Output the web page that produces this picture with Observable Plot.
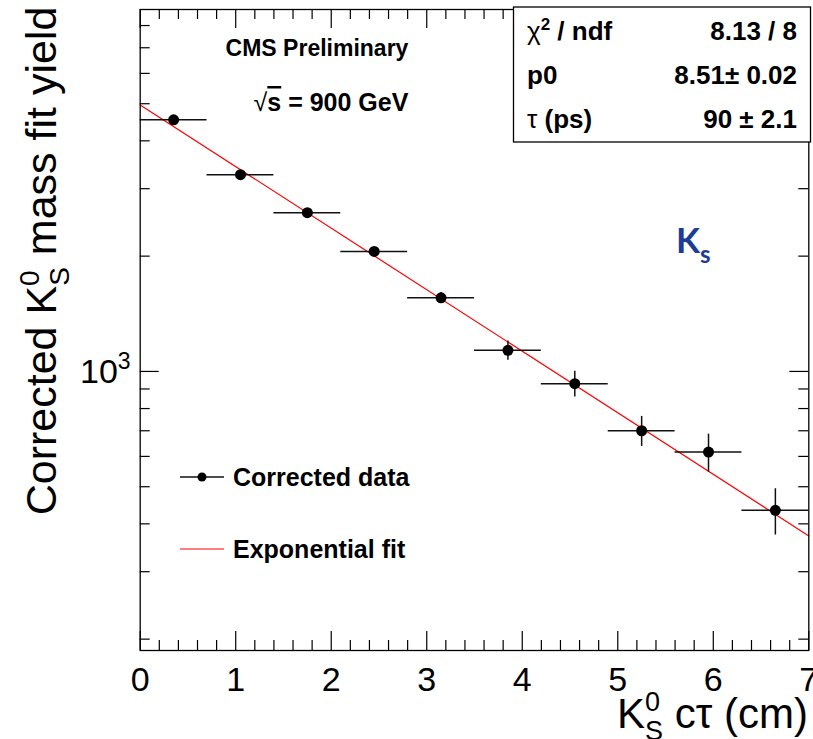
<!DOCTYPE html>
<html>
<head>
<meta charset="utf-8">
<script src="https://cdn.jsdelivr.net/npm/d3@7"></script>
<script src="https://cdn.jsdelivr.net/npm/@observablehq/plot@0.6"></script>
<style>
  html, body { margin: 0; padding: 0; background: #fff; }
  svg { display: block; }
</style>
</head>
<body>
<div id="chart"></div>
<script>
// ---- data ----
const binCenters   = [0.35, 1.05, 1.75, 2.45, 3.15, 3.85, 4.55, 5.25, 5.95, 6.65];
const binHalfWidth = [0.35, 0.35, 0.35, 0.35, 0.35, 0.35, 0.35, 0.35, 0.35, 0.35];
const yields       = [4540, 3263, 2597, 2058, 1557, 1135, 929, 700, 616, 434];
const yieldErrors  = [35, 40, 45, 50, 50, 65, 72, 63, 70, 60];
const fitX = [0, 7];
const fitY = [4960, 372];
const xTickLabels = [0, 1, 2, 3, 4, 5, 6, 7];
const yMajorTicks = [1000];
const yMinorTicks = [200, 300, 400, 500, 600, 700, 800, 900, 2000, 3000, 4000, 5000, 6000, 7000, 8000];
const xMinorTicks = d3.range(0, 7.0001, 0.2).filter(v => Math.abs(v - Math.round(v)) > 1e-6);
const statNames  = ["ndf", "p0", "τ (ps)"];
const statValues = ["8.13 / 8", "8.51± 0.02", "90 ± 2.1"];

const points = binCenters.map((x, i) => ({x, hw: binHalfWidth[i], y: yields[i], e: yieldErrors[i]}));
const fit = fitX.map((x, i) => ({x, y: fitY[i]}));

// ---- layout ----
const W = 813, H = 739;
const mL = 139.7, mR = 4.7, mT = 9, mB = 89;
const fw = W - mL - mR, fh = H - mT - mB;
const FONT = "'Liberation Sans', Arial, Helvetica, sans-serif";

const svgEl = Plot.plot({
  width: W, height: H,
  marginLeft: mL, marginRight: mR, marginTop: mT, marginBottom: mB,
  style: {fontFamily: FONT, background: "#fff", color: "#000", overflow: "visible"},
  x: {domain: [0, 7], axis: null},
  y: {type: "log", domain: [186.8, 8810], axis: null},
  marks: [
    // ticks (inside the frame, ROOT style)
    Plot.tickX(xMinorTicks, {x: d => d, insetTop: fh - 10, stroke: "#000", strokeWidth: 1.2}),
    Plot.tickX(xTickLabels, {x: d => d, insetTop: fh - 19, stroke: "#000", strokeWidth: 1.2}),
    Plot.tickX(xMinorTicks, {x: d => d, insetBottom: fh - 10, stroke: "#000", strokeWidth: 1.2}),
    Plot.tickX(xTickLabels, {x: d => d, insetBottom: fh - 19, stroke: "#000", strokeWidth: 1.2}),
    Plot.tickY(yMinorTicks, {y: d => d, insetRight: fw - 10, stroke: "#000", strokeWidth: 1.2}),
    Plot.tickY(yMajorTicks, {y: d => d, insetRight: fw - 19, stroke: "#000", strokeWidth: 1.2}),
    Plot.tickY(yMinorTicks, {y: d => d, insetLeft: fw - 10, stroke: "#000", strokeWidth: 1.2}),
    Plot.tickY(yMajorTicks, {y: d => d, insetLeft: fw - 19, stroke: "#000", strokeWidth: 1.2}),
    Plot.axisX(xTickLabels, {tickSize: 0, tickPadding: 16, fontSize: 34, label: null, tickFormat: d => String(d)}),
    // fit
    Plot.line(fit, {x: "x", y: "y", stroke: "#ff0000", strokeWidth: 1.2}),
    // error bars
    Plot.ruleY(points, {y: "y", x1: d => d.x - d.hw, x2: d => d.x + d.hw, stroke: "#111", strokeWidth: 1.5}),
    Plot.ruleX(points, {x: "x", y1: d => d.y - d.e, y2: d => d.y + d.e, stroke: "#111", strokeWidth: 1.5}),
    Plot.dot(points, {x: "x", y: "y", r: 5.5, fill: "#000", stroke: "none"}),
    Plot.frame({stroke: "#000", strokeWidth: 1.3})
  ]
});

document.getElementById("chart").appendChild(svgEl);
const svg = d3.select(svgEl);
const yScale = svgEl.scale("y");

function txt(x, y, anchor, size, weight) {
  return svg.append("text").attr("x", x).attr("y", y)
    .attr("text-anchor", anchor)
    .style("font-family", FONT).style("font-size", size + "px")
    .style("font-weight", weight || "normal").attr("fill", "#000");
}

// y tick label 10^3
{
  const yy = yScale.apply(1000);
  const t = txt(80, yy + 12, "start", 34);
  t.append("tspan").text("10");
  t.append("tspan").attr("dy", -14).style("font-size", "23px").text("3");
}

// y axis title
{
  const t = svg.append("text")
    .attr("transform", "translate(56,261) rotate(-90)")
    .attr("text-anchor", "middle")
    .style("font-family", FONT).style("font-size", "43px").attr("fill", "#000");
  t.append("tspan").text("Corrected K");
  t.append("tspan").attr("dy", -17).style("font-size", "28px").text("0");
  t.append("tspan").attr("dx", -15.5).attr("dy", 30).style("font-size", "28px").text("S");
  t.append("tspan").attr("dy", -13).text(" mass fit yield");
}

// x axis title
{
  const t = txt(808, 728, "end", 42);
  t.append("tspan").text("K");
  t.append("tspan").attr("dy", -17).style("font-size", "27px").text("0");
  t.append("tspan").attr("dx", -15).attr("dy", 29).style("font-size", "27px").text("S");
  t.append("tspan").attr("dy", -12).text(" cτ (cm)");
}

// CMS Preliminary and sqrt(s)
txt(317, 56, "middle", 23, "bold").text("CMS Preliminary");
{
  const t = txt(331, 111, "middle", 25, "bold");
  t.append("tspan").style("font-weight", "normal").text("√");
  t.append("tspan").style("text-decoration", "overline").text("s");
  t.append("tspan").text(" = 900 GeV");
}

// stats box
svg.append("rect").attr("x", 513.5).attr("y", 7).attr("width", 297).attr("height", 135)
  .attr("fill", "#fff").attr("stroke", "#000").attr("stroke-width", 1.3);
const rowY = [31, 75, 119];
rowY.forEach((cy, i) => {
  const t = txt(527, cy + 9, "start", 26, "bold");
  if (i === 0) {
    t.append("tspan").style("font-weight", "normal").text("χ");
    t.append("tspan").attr("dy", -10).style("font-size", "17px").text("2");
    t.append("tspan").attr("dy", 10).text(" / " + statNames[0]);
  } else if (i === 2) {
    t.append("tspan").style("font-weight", "normal").text("τ");
    t.append("tspan").text(" (ps)");
  } else {
    t.text(statNames[i]);
  }
  txt(797, cy + 9, "end", 26, "bold").text(statValues[i]);
});

// K_s label
{
  const t = svg.append("text").attr("x", 676).attr("y", 253).attr("text-anchor", "start")
    .style("font-family", "Lato, 'Open Sans', sans-serif").style("font-size", "35px")
    .style("font-weight", "bold").attr("fill", "#1b3c97");
  t.append("tspan").text("K");
  t.append("tspan").attr("dy", 10).style("font-size", "24px").text("s");
}

// legend
{
  svg.append("line").attr("x1", 180).attr("x2", 224).attr("y1", 477).attr("y2", 477)
    .attr("stroke", "#111").attr("stroke-width", 1.5);
  svg.append("circle").attr("cx", 202).attr("cy", 477).attr("r", 4.5).attr("fill", "#000");
  txt(233, 486, "start", 25, "bold").text("Corrected data");
  svg.append("line").attr("x1", 180).attr("x2", 224).attr("y1", 549).attr("y2", 549)
    .attr("stroke", "#ff0000").attr("stroke-width", 1.2);
  txt(233, 558, "start", 25, "bold").text("Exponential fit");
}
</script>
</body>
</html>
